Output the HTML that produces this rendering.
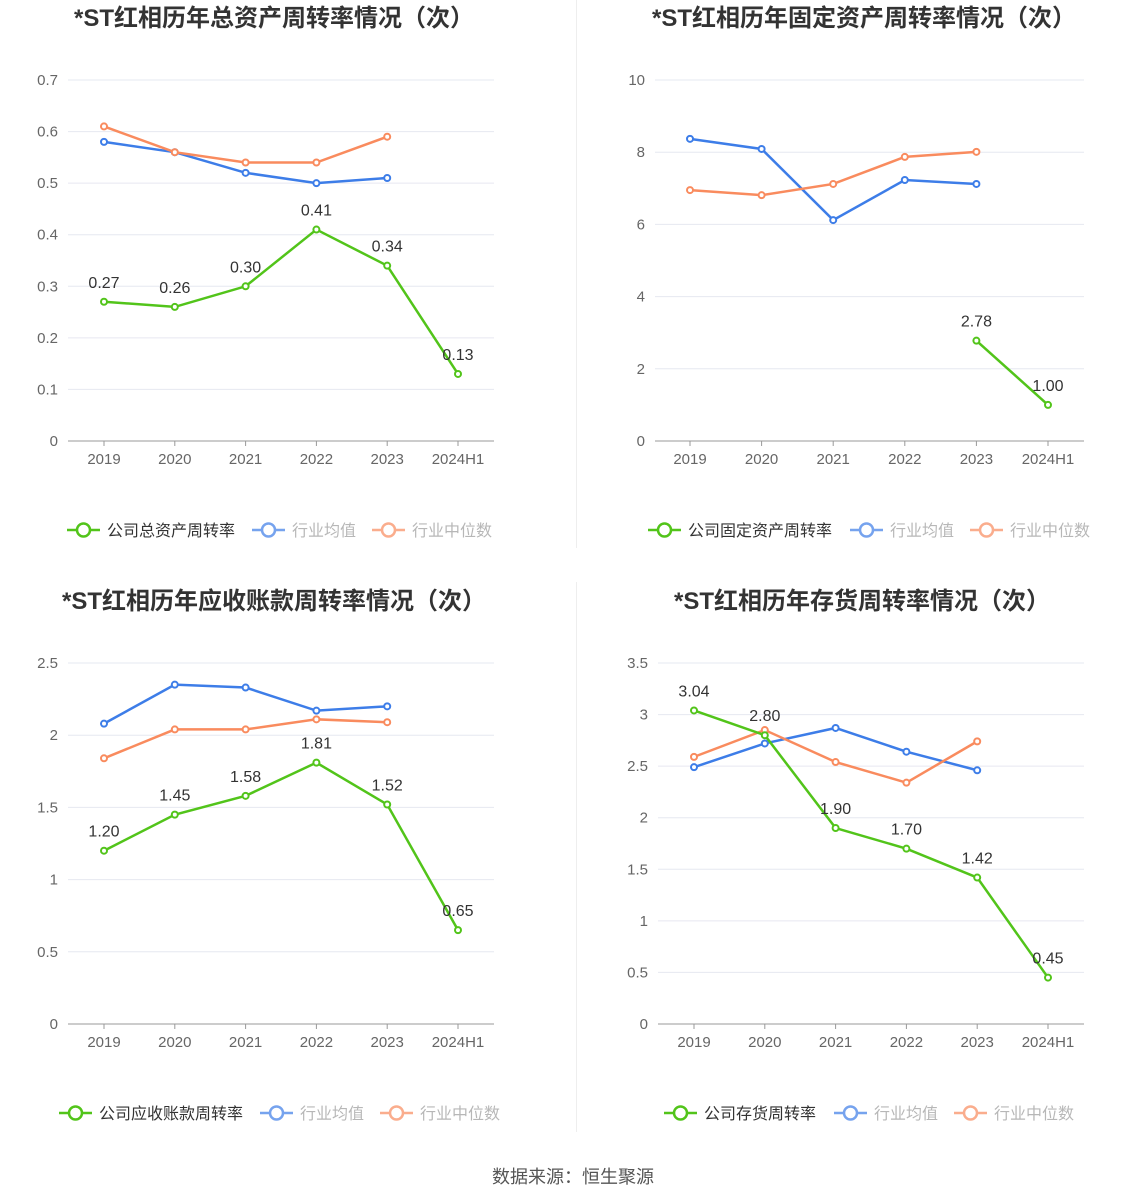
<!DOCTYPE html>
<html><head><meta charset="utf-8">
<style>
body{margin:0;background:#fff;font-family:"Liberation Sans","Noto Sans CJK SC",sans-serif;}
#wrap{position:relative;width:1147px;height:1202px;overflow:hidden;}
svg text{font-family:"Liberation Sans","Noto Sans CJK SC",sans-serif;}
</style></head>
<body><div id="wrap">
<svg id="svg" width="1147" height="1202">
<line x1="576.5" y1="0" x2="576.5" y2="548" stroke="#eee"/>
<line x1="576.5" y1="582" x2="576.5" y2="1132" stroke="#eee"/>
<text x="573" y="1183" text-anchor="middle" font-size="18" fill="#555">数据来源：恒生聚源</text>
</svg></div>
<script>
const categories=["2019","2020","2021","2022","2023","2024H1"];
const titles=["*ST红相历年总资产周转率情况（次）","*ST红相历年固定资产周转率情况（次）","*ST红相历年应收账款周转率情况（次）","*ST红相历年存货周转率情况（次）"];
const companyNames=["公司总资产周转率","公司固定资产周转率","公司应收账款周转率","公司存货周转率"];
const company1=[0.27,0.26,0.30,0.41,0.34,0.13];
const avg1=[0.58,0.56,0.52,0.50,0.51,null];
const med1=[0.61,0.56,0.54,0.54,0.59,null];
const company2=[null,null,null,null,2.78,1.00];
const avg2=[8.37,8.09,6.12,7.23,7.12,null];
const med2=[6.95,6.81,7.12,7.87,8.01,null];
const company3=[1.20,1.45,1.58,1.81,1.52,0.65];
const avg3=[2.08,2.35,2.33,2.17,2.20,null];
const med3=[1.84,2.04,2.04,2.11,2.09,null];
const company4=[3.04,2.80,1.90,1.70,1.42,0.45];
const avg4=[2.49,2.72,2.87,2.64,2.46,null];
const med4=[2.59,2.85,2.54,2.34,2.74,null];
const ticks1=["0","0.1","0.2","0.3","0.4","0.5","0.6","0.7"];
const ticks2=["0","2","4","6","8","10"];
const ticks3=["0","0.5","1","1.5","2","2.5"];
const ticks4=["0","0.5","1","1.5","2","2.5","3","3.5"];

const NS="http://www.w3.org/2000/svg";
const svg=document.getElementById('svg');
function mk(tag,attrs,parent){const e=document.createElementNS(NS,tag);for(const k in attrs)e.setAttribute(k,attrs[k]);(parent||svg).appendChild(e);return e;}

const charts=[
 {ox:0,oy:0,x0:68,x1:494,first:104,step:70.8,ticks:ticks1,max:0.7,dec:2,c:company1,a:avg1,m:med1,tx:274,leg:[67,252,372]},
 {ox:0,oy:0,x0:655,x1:1084,first:690,step:71.6,ticks:ticks2,max:10,dec:2,c:company2,a:avg2,m:med2,tx:864,leg:[648,850,970]},
 {ox:0,oy:583,x0:68,x1:494,first:104,step:70.8,ticks:ticks3,max:2.5,dec:2,c:company3,a:avg3,m:med3,tx:274,leg:[59,260,380]},
 {ox:0,oy:583,x0:658,x1:1084,first:694,step:70.8,ticks:ticks4,max:3.5,dec:2,c:company4,a:avg4,m:med4,tx:862,leg:[664,834,954]}
];
charts.forEach((ch,i)=>{
 const g=mk('g',{});
 
 
 const top=80+ch.oy, bot=441+ch.oy;
 const y=v=>bot-(v/ch.max)*(bot-top);
 const x=k=>ch.first+k*ch.step;
 const t=mk('text',{x:ch.tx,y:26+ch.oy,'text-anchor':'middle','font-size':24,'font-weight':'bold',fill:'#333'},g);
 t.textContent=titles[i];
 
 
 ch.ticks.forEach(tk=>{
  const v=parseFloat(tk), yy=y(v);
  if(v>0){const l=mk('line',{x1:ch.x0,x2:ch.x1,y1:yy,y2:yy,stroke:'#e6e8f0'},g);
   }
  const tt=mk('text',{x:ch.x0-10,y:yy+5,'text-anchor':'end','font-size':15,fill:'#666'},g);
  tt.textContent=tk;
  
  
 });
 const ax=mk('line',{x1:ch.x0,x2:ch.x1,y1:bot,y2:bot,stroke:'#999'},g);
 
 categories.forEach((c,k)=>{
  mk('line',{x1:x(k),x2:x(k),y1:bot,y2:bot+5,stroke:'#999'},g);
  const tt=mk('text',{x:x(k),y:bot+23,'text-anchor':'middle','font-size':15,fill:'#666'},g);
  tt.textContent=c;
  
  
 });
 function series(vals,color,name,labels){
  let d='';let pen=false;
  vals.forEach((v,k)=>{if(v==null){pen=false;return;}d+=(pen?'L':'M')+x(k)+' '+y(v)+' ';pen=true;});
  const p=mk('path',{d:d,fill:'none',stroke:color,'stroke-width':2.5},g);
  
  
  vals.forEach((v,k)=>{if(v==null)return;
   const c=mk('circle',{cx:x(k),cy:y(v),r:3,fill:'#fff',stroke:color,'stroke-width':2},g);
   
   
   if(labels){const l=mk('text',{x:x(k),y:y(v)-14,'text-anchor':'middle','font-size':16,fill:'#333'},g);
    l.textContent=v.toFixed(ch.dec);
    
    }
  });
 }
 series(ch.a,'#3d7de8','industry-average',false);
 series(ch.m,'#f98b5e','industry-median',false);
 series(ch.c,'#52c41a','company',true);
 const ly=530+ch.oy;
 const items=[[companyNames[i],'#52c41a','#333',1],['行业均值','#3d7de8','#999',0.7],['行业中位数','#f98b5e','#999',0.7]];
 items.forEach((it,k)=>{
  const lg=mk('g',{opacity:it[3]},g);
  
  
  const lx=ch.leg[k];
  mk('line',{x1:lx,x2:lx+33,y1:ly,y2:ly,stroke:it[1],'stroke-width':2.5},lg);
  mk('circle',{cx:lx+16.5,cy:ly,r:6.5,fill:'#fff',stroke:it[1],'stroke-width':2.5},lg);
  const tt=mk('text',{x:lx+40,y:ly+6,'font-size':16,fill:it[2]},lg);
  tt.textContent=it[0];
 });
});
</script></body></html>
